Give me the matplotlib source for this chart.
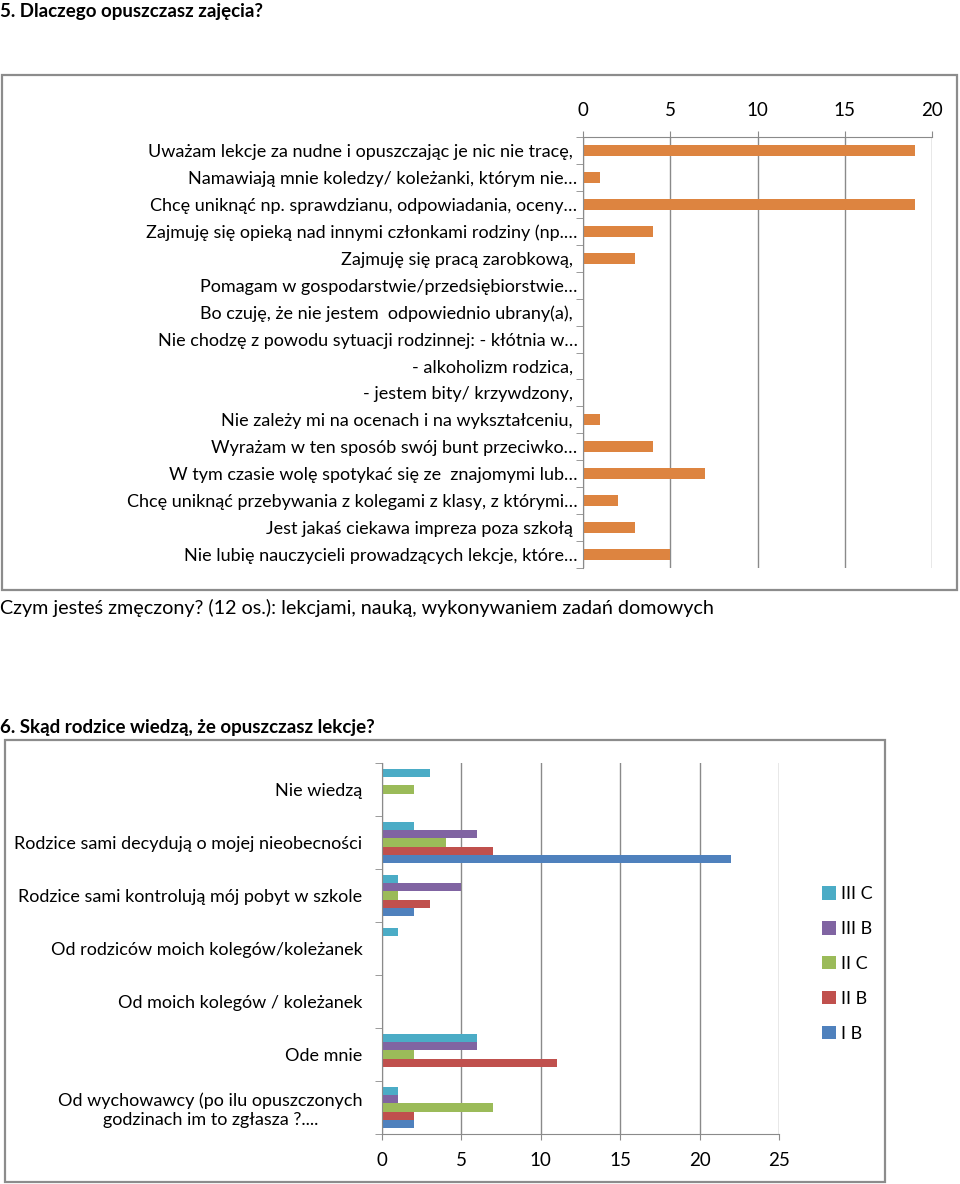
import numpy as np
import matplotlib
matplotlib.use("Agg")
import matplotlib.pyplot as plt
from matplotlib.patches import Rectangle, Patch

plt.rcParams["font.family"] = ["Lato", "DejaVu Sans"]

# ---- dane: pytanie 5 ----
reasons = [
    "Uważam lekcje za nudne i opuszczając je nic nie tracę, ",
    "Namawiają mnie koledzy/ koleżanki, którym nie…",
    "Chcę uniknąć np. sprawdzianu, odpowiadania, oceny…",
    "Zajmuję się opieką nad innymi członkami rodziny (np.…",
    "Zajmuję się pracą zarobkową, ",
    "Pomagam w gospodarstwie/przedsiębiorstwie…",
    "Bo czuję, że nie jestem  odpowiednio ubrany(a), ",
    "Nie chodzę z powodu sytuacji rodzinnej: - kłótnia w…",
    "- alkoholizm rodzica, ",
    "- jestem bity/ krzywdzony, ",
    "Nie zależy mi na ocenach i na wykształceniu, ",
    "Wyrażam w ten sposób swój bunt przeciwko…",
    "W tym czasie wolę spotykać się ze  znajomymi lub…",
    "Chcę uniknąć przebywania z kolegami z klasy, z którymi…",
    "Jest jakaś ciekawa impreza poza szkołą ",
    "Nie lubię nauczycieli prowadzących lekcje, które…",
]
reason_counts = [19, 1, 19, 4, 3, 0, 0, 0, 0, 0, 1, 4, 7, 2, 3, 5]

# ---- dane: pytanie 6 ----
sources = [
    "Nie wiedzą",
    "Rodzice sami decydują o mojej nieobecności",
    "Rodzice sami kontrolują mój pobyt w szkole",
    "Od rodziców moich kolegów/koleżanek",
    "Od moich kolegów / koleżanek",
    "Ode mnie",
    "Od wychowawcy (po ilu opuszczonych\ngodzinach im to zgłasza ?....",
]
classes = ["III C", "III B", "II C", "II B", "I B"]
iii_c = [3, 2, 1, 1, 0, 6, 1]
iii_b = [0, 6, 5, 0, 0, 6, 1]
ii_c = [2, 4, 1, 0, 0, 2, 7]
ii_b = [0, 7, 3, 0, 0, 11, 2]
i_b = [0, 22, 2, 0, 0, 0, 2]
class_colors = ["#4BACC6", "#8064A2", "#9BBB59", "#C0504D", "#4F81BD"]

W, H = 960, 1184
GRID = "#8a8a8a"
FRAME = "#8c8c8c"
LABEL_SIZE = 13


def box(x0, y0, x1, y1):
    """piksele (od góry) -> współrzędne figury"""
    return [x0 / W, 1 - y1 / H, (x1 - x0) / W, (y1 - y0) / H]


fig = plt.figure(figsize=(W / 100, H / 100), dpi=100)

# ramki wykresów
for x0, y0, x1, y1 in [(2, 75, 957, 590), (5, 740, 885, 1182)]:
    fig.patches.append(Rectangle((x0 / W, 1 - y1 / H), (x1 - x0) / W, (y1 - y0) / H,
                                 transform=fig.transFigure, fill=False,
                                 edgecolor=FRAME, linewidth=1.6))

# teksty dokumentu
fig.text(0, 1 - 12 / H, "5. Dlaczego opuszczasz zajęcia?", fontsize=13.5,
         fontweight="bold", ha="left", va="center")
fig.text(0, 1 - 608 / H,
         "Czym jesteś zmęczony? (12 os.): lekcjami, nauką, wykonywaniem zadań domowych",
         fontsize=14.2, ha="left", va="center")
fig.text(0, 1 - 727 / H, "6. Skąd rodzice wiedzą, że opuszczasz lekcje?", fontsize=13.5,
         fontweight="bold", ha="left", va="center")


def style_axis(ax, n, top):
    ax.set_ylim(n - 0.5, -0.5)
    ax.grid(axis="x", color=GRID, linewidth=1)
    ax.set_axisbelow(True)
    ax.spines["right"].set_visible(False)
    ax.spines["bottom" if top else "top"].set_visible(False)
    for s in ["left", "top" if top else "bottom"]:
        ax.spines[s].set_color(GRID)
    ax.set_yticks(np.arange(-0.5, n, 1), minor=True)
    ax.tick_params(axis="y", which="minor", length=5, color=GRID, direction="out")
    ax.tick_params(axis="y", which="major", length=0, pad=4, labelsize=LABEL_SIZE)
    ax.tick_params(axis="x", length=4, color=GRID, labelsize=13.5, pad=9)


# ---- wykres 1 ----
ax1 = fig.add_axes(box(583, 137, 932, 568))
y1 = np.arange(len(reasons))
ax1.barh(y1, reason_counts, height=0.4, color="#DD8440")
ax1.set_xlim(0, 20)
ax1.set_xticks([0, 5, 10, 15, 20])
ax1.xaxis.tick_top()
ax1.set_yticks(y1)
ax1.set_yticklabels(reasons)
style_axis(ax1, len(reasons), top=True)

# ---- wykres 2 ----
ax2 = fig.add_axes(box(382, 763, 779, 1134))
y2 = np.arange(len(sources))
h = 0.155
for j, (vals, color) in enumerate(zip([iii_c, iii_b, ii_c, ii_b, i_b], class_colors)):
    ax2.barh(y2 + (j - 2) * h, vals, height=h, color=color)
ax2.set_xlim(0, 25)
ax2.set_xticks([0, 5, 10, 15, 20, 25])
ax2.set_yticks(y2)
ax2.set_yticklabels(sources, multialignment="center")
style_axis(ax2, len(sources), top=False)
ax2.tick_params(axis="y", which="major", pad=14)

handles = [Patch(facecolor=c, label=l) for c, l in zip(class_colors, classes)]
fig.legend(handles=handles, loc="upper left", bbox_to_anchor=(806 / W, 1 - 870 / H),
           frameon=False, fontsize=LABEL_SIZE, labelspacing=1.05, handlelength=0.75,
           handleheight=0.75, handletextpad=0.3)

fig.savefig("out.png", dpi=100)
